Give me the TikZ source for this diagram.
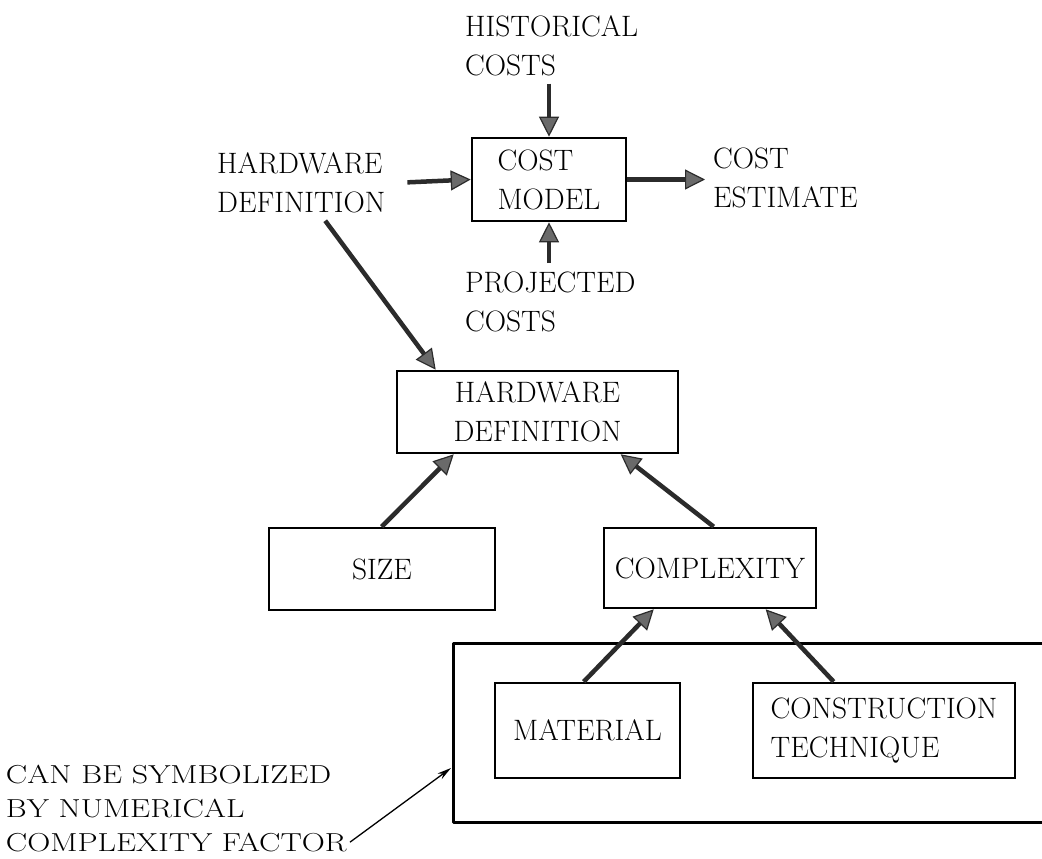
\documentclass[tikz,border=0pt]{standalone}
\usepackage{fontspec}
\usetikzlibrary{arrows.meta,calc}
\definecolor{shaft}{HTML}{2B2B2B}
\definecolor{headfill}{HTML}{6A6A6A}
\begin{document}
\begin{tikzpicture}[x=1pt,y=-1pt,
  txt/.style={font=\fontsize{29.5}{39}\selectfont},
  lbl/.style={txt, inner sep=0pt, anchor=north west, align=left},
  box/.style={txt, draw=black, line width=2.6pt, inner sep=0pt, align=center},
  leftbox/.style={box, align=left},
  flow/.style={draw=shaft, line width=4.5pt,
    -{Triangle[length=20pt,width=20pt,line width=1.2pt,fill=headfill]}},
  pointer/.style={draw=black, line width=1.3pt, -{Stealth[length=14pt,width=7pt]}},
  frame/.style={draw=black, line width=3pt, line join=round}
]
% page
\fill[white] (0,0) rectangle (1042,859);
\useasboundingbox (0,0) rectangle (1042,859);

% cost model and its inputs
\node[leftbox, minimum width=154pt, minimum height=83pt] (costmodel) at (549,179.5) {COST\\MODEL};
\node[lbl, text width=177pt] (hist) at (465,15) {HISTORICAL\\COSTS};
\node[lbl, text width=176pt] (hwlabel) at (217,152) {HARDWARE\\DEFINITION};
\node[lbl, text width=150pt] (estimate) at (713,148) {COST\\ESTIMATE};
\node[lbl, text width=180pt] (projected) at (465,272) {PROJECTED\\COSTS};

% hardware definition breakdown
\node[box, minimum width=281pt, minimum height=82pt] (hd) at (537.5,412) {HARDWARE\\DEFINITION};
\node[box, minimum width=226pt, minimum height=82pt] (size) at (382,569) {SIZE};
\node[box, minimum width=212pt, minimum height=80pt] (complexity) at (710,568) {COMPLEXITY};
\node[box, minimum width=185pt, minimum height=95pt] (material) at (587.5,730.5) {MATERIAL};
\node[leftbox, minimum width=262pt, minimum height=95pt] (construction) at (884,730.5) {CONSTRUCTION\\TECHNIQUE};

% group enclosing material and construction technique (runs off the right edge)
\draw[frame] (1060,643) -| (453,822) -- (1060,822);
\coordinate (grpedge) at (451,768);

% annotation, set wide
\node[lbl, font=\fontsize{26}{34}\selectfont, xscale=1.23, transform shape] (note) at (5.7,765)
  {CAN BE SYMBOLIZED\\BY NUMERICAL\\COMPLEXITY FACTOR};

% connectors
\draw[flow] ($(hist.south -| costmodel.north)+(0,8)$) -- (costmodel.north);
\draw[flow] ($(projected.north -| costmodel.south)+(0,-9)$) -- (costmodel.south);
\draw[flow] ($(hwlabel.east)+(14,0)$) -- (costmodel.west);
\draw[flow] (costmodel.east) -- ($(costmodel.east -| estimate.west)+(-8,0)$);
\draw[flow] ($(hwlabel.south)+(20,8)$) -- ($(hd.north west)+(40,0)$);
\draw[flow] ($(size.north west)+(114,0)$) -- ($(hd.south west)+(58,0)$);
\draw[flow] ($(complexity.north west)+(111,0)$) -- ($(hd.south west)+(225,0)$);
\draw[flow] ($(material.north west)+(90,0)$) -- ($(complexity.south west)+(51,0)$);
\draw[flow] ($(construction.north west)+(82,0)$) -- ($(complexity.south west)+(163,0)$);
\draw[pointer] ($(note.south east)+(3,-10)$) -- (grpedge);
\end{tikzpicture}
\end{document}
